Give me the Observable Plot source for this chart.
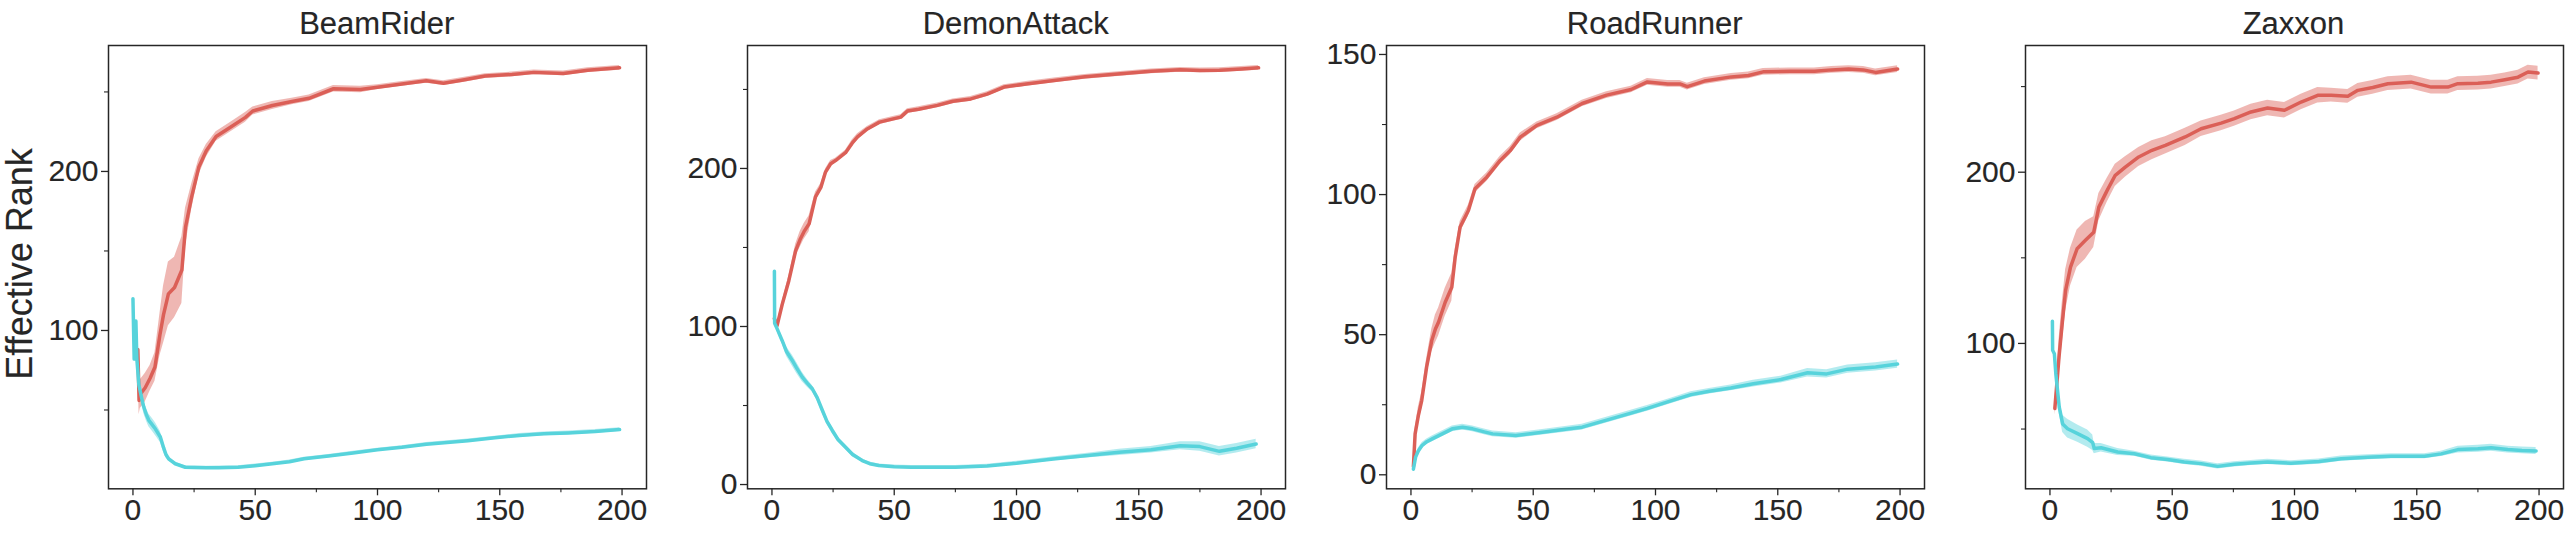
<!DOCTYPE html>
<html>
<head>
<meta charset="utf-8">
<script src="https://cdn.jsdelivr.net/npm/d3@7"></script>
<script src="https://cdn.jsdelivr.net/npm/@observablehq/plot@0.6"></script>
<style>
  html, body { margin: 0; padding: 0; background: #fff; }
  #root { position: relative; width: 2571px; height: 533px; background: #fff; overflow: hidden;
          font-family: 'Liberation Sans', Arial, sans-serif; color: #262626; }
  .panel { position: absolute; top: 0; }
  .panel svg text { stroke: #262626; stroke-width: 0.15px; }
  .title { position: absolute; top: 8.3px; font-size: 31px; line-height: 31px; text-align: center; white-space: nowrap;
           -webkit-text-stroke: 0.15px #262626; }
  .ylabel { position: absolute; left: 19.7px; top: 264.3px; font-size: 36px; line-height: 36px; white-space: nowrap;
            transform: translate(-50%, -50%) rotate(-90deg); -webkit-text-stroke: 0.15px #262626; }
</style>
</head>
<body>
<div id="root"></div>
<script>
// ---------------- data ----------------
const games = ["BeamRider", "DemonAttack", "RoadRunner", "Zaxxon"];
const yLabel = "Effective Rank";
const xMajorTicks = [0, 50, 100, 150, 200];
const xMinorTicks = [25, 75, 125, 175];

// BeamRider
const beamRiderRedX    = [2, 2.5, 3, 5, 7, 9, 11, 12.5, 14.5, 17, 20, 21.5, 24, 27, 30, 34, 40, 46, 49, 57, 65, 72, 82, 93, 100, 110, 120, 127, 135, 144, 155, 164, 176, 186, 199];
const beamRiderRedMean = [88, 56, 60, 64, 70, 77, 97, 110, 123, 127, 138, 165, 184, 203, 213, 222, 228, 234, 238, 241.5, 244, 246, 252, 251.5, 253, 255, 257, 255.5, 257.5, 260, 261, 262.3, 261.6, 263.7, 265.2];
const beamRiderRedBand = [3, 9, 9, 9, 8, 9, 13, 18, 20, 19, 21, 12, 8, 5, 4, 3, 3, 3, 2.5, 2.5, 2, 2, 2, 2, 1.5, 1.5, 1.5, 1.5, 1.5, 1.5, 1.5, 1.5, 1.5, 1.5, 1.5];
const beamRiderCyanX    = [0, 0.5, 1.2, 1.6, 2.4, 3.5, 4.4, 5.5, 6.5, 8, 9.2, 11.2, 12.6, 13.5, 14.6, 17.3, 21.4, 25, 30, 35, 43, 50, 57, 64, 70, 80, 90, 100, 110, 120, 137, 148, 158, 168, 178, 189, 199];
const beamRiderCyanMean = [120, 82, 106, 82, 66, 58, 52, 47, 43.5, 40.5, 38, 33, 26, 22, 19.3, 16.2, 14, 13.8, 13.6, 13.7, 14, 15, 16.2, 17.5, 19.3, 21, 23, 25, 26.5, 28.5, 30.7, 32.5, 34, 35, 35.6, 36.5, 37.7];
const beamRiderCyanBand = [1, 1, 1, 1.5, 2, 3, 4, 4, 4, 4, 4, 3.5, 3, 2, 1.5, 1, 1, 1, 1, 1, 1, 1, 1, 1, 1, 1, 1, 1, 1, 1, 1, 1, 1.2, 1.2, 1.2, 1.2, 1.2];

// DemonAttack
const demonRedX    = [1, 2.1, 4.2, 6.9, 9.7, 11.5, 13.1, 15.2, 17.8, 20, 21.9, 24, 26, 30.1, 32.8, 35, 39, 44, 50, 52.7, 55.4, 60, 67.7, 74, 81.3, 88, 94.9, 104, 115.4, 128, 142.6, 155, 167, 175, 183, 192, 199];
const demonRedMean = [105, 100.6, 114, 129, 148, 155, 160, 165, 182, 188, 197.7, 203, 205, 210, 216, 220, 225, 229.3, 231.5, 232.5, 236.3, 237.5, 239.9, 242.5, 244, 247, 251.5, 253.5, 255.7, 258, 259.9, 261.5, 262.4, 262, 262.2, 263, 263.7];
const demonRedBand = [1.5, 2, 2, 3, 4, 5, 5, 5, 3, 2.5, 2, 2, 1.5, 1.5, 2, 2, 1.5, 1.5, 1.5, 1.5, 1.5, 1.5, 1.5, 1.5, 1.5, 1.5, 1.5, 1.5, 1.5, 1.5, 1.5, 1.5, 1.5, 1.5, 1.5, 1.5, 1.5];
const demonCyanX    = [1, 1.1, 2, 4.2, 6, 8.3, 10, 12.4, 14.5, 16.5, 18.5, 20.6, 22.5, 24.7, 27, 30.1, 33, 36.9, 40, 43.7, 50, 57, 65, 75, 88, 100, 115, 130, 142, 155, 167, 175, 183, 190, 198];
const demonCyanMean = [135, 102, 99, 91, 84, 78.5, 74, 68, 64, 60.6, 55, 47, 40, 34.2, 28.5, 23.6, 19, 15.2, 13.2, 12, 11.3, 11, 11, 11, 11.8, 13.5, 16.2, 18.5, 20.4, 22, 24.5, 24, 21, 23, 25.6];
const demonCyanBand = [1, 1, 1.5, 2, 3, 3.5, 3.5, 3, 2.5, 2, 2, 2, 2, 2, 1.5, 1.5, 1.5, 1, 1, 1, 1, 1, 1, 1, 1, 1.2, 1.2, 1.5, 2, 2, 2.5, 3, 3, 3, 3];

// RoadRunner
const roadRedX    = [1, 1.7, 3, 4.4, 6.4, 8.5, 10, 11.3, 14, 16.7, 18.1, 20.1, 23.5, 26.2, 31, 36.5, 40.6, 44.7, 51.5, 59.7, 70, 80, 90, 96.7, 105, 110, 113, 120, 131, 138, 144, 155, 165, 172, 179, 185, 190, 199];
const roadRedMean = [3, 14.6, 21, 26.5, 38.4, 47.9, 52, 54.5, 61.6, 66.9, 77.7, 88.4, 94.3, 102.1, 106.2, 112.2, 115.7, 120.5, 124.7, 127.6, 132.5, 135.5, 137.5, 140.2, 139.5, 139.5, 138.5, 140.5, 142, 142.5, 143.8, 144, 144, 144.5, 144.8, 144.5, 143.6, 144.8];
const roadRedBand = [1, 2, 3, 3, 3, 4, 5, 5, 5, 5, 3, 2, 2, 1.5, 1.5, 1.5, 1.5, 1.5, 1.2, 1.2, 1.2, 1.2, 1.2, 1.2, 1.2, 1.2, 1.2, 1.2, 1.2, 1.2, 1.2, 1.2, 1.2, 1.2, 1.2, 1.2, 1.2, 1.2];
const roadCyanX    = [1, 1.9, 3, 4.6, 6.5, 8.7, 12.8, 16.9, 21.1, 25.2, 30, 33.4, 42.9, 53.8, 64.7, 70, 80, 90, 96.7, 105, 114.5, 122, 130.8, 140, 151.3, 162.2, 170, 178.6, 190, 199];
const roadCyanMean = [2, 6.3, 8.5, 10.5, 11.8, 12.8, 14.6, 16.4, 17, 16.4, 15.3, 14.6, 14, 15.2, 16.4, 17, 19.5, 22, 23.7, 26, 28.6, 29.8, 31, 32.5, 34, 36.4, 36, 37.7, 38.5, 39.5];
const roadCyanBand = [1, 1, 1, 1, 1, 1, 1, 1, 1, 1, 1, 1, 1, 1, 1, 1, 1, 1, 1, 1, 1, 1, 1, 1.2, 1.2, 1.5, 1.5, 1.5, 1.5, 1.5];

// Zaxxon
const zaxxonRedX    = [2, 3.7, 5, 6.4, 8.4, 11.1, 14.5, 17.9, 20, 23.4, 26.7, 30.8, 36.3, 41.7, 47.2, 55.3, 61.8, 70, 75.4, 82.2, 89, 95.9, 102.7, 109.5, 115, 121.8, 125.9, 132, 138.2, 147.7, 155.9, 162.7, 166.8, 175, 180.4, 186, 191.4, 195.5, 199.6];
const zaxxonRedMean = [62, 92, 111.5, 131, 144.6, 155.3, 160.2, 165, 179.6, 189.4, 198.2, 203, 208.9, 212.8, 215.7, 220.6, 225.4, 228.7, 231.3, 235.2, 237.5, 236.2, 241, 244.9, 245, 244.3, 247.8, 249.5, 251.7, 252.6, 249.7, 249.7, 251.7, 252, 252.6, 254, 255.5, 258.5, 257.9];
const zaxxonRedBand = [4, 10, 12, 12, 11, 11, 11, 9, 8, 7, 6.5, 6, 5.5, 5.5, 5, 5, 4.5, 4.5, 4.5, 4.5, 4.5, 4.5, 4.5, 4.5, 4, 4, 4, 4, 4, 4, 4, 4, 4, 4, 4, 4, 4, 4, 4];
const zaxxonCyanX    = [1, 1.1, 1.8, 2.4, 3.8, 5.2, 7.2, 11.3, 15.4, 17.5, 18.1, 20.9, 27.7, 34.5, 41.3, 48.1, 54.9, 61.8, 68.6, 75.4, 82.2, 89, 98.6, 110, 119.1, 130, 139.5, 153.2, 160, 166.8, 175, 180.4, 187.2, 193, 198.8];
const zaxxonCyanMean = [113, 96, 94, 82.3, 62.8, 53, 50.2, 47.3, 44.4, 42, 38.6, 39.1, 36.6, 35.6, 33.3, 32.2, 30.8, 29.8, 28.2, 29.4, 30.2, 30.8, 30, 31, 32.7, 33.5, 34.1, 34.1, 35.5, 38, 38.5, 39.1, 38, 37.5, 37.2];
const zaxxonCyanBand = [1, 1, 1.5, 2, 4, 5, 5.5, 5, 5, 4.5, 3, 2.5, 2, 1.5, 1.5, 1.5, 1.5, 1.5, 1.5, 1.5, 1.5, 1.5, 1.5, 1.5, 1.5, 1.5, 1.5, 1.5, 1.5, 2, 2, 2, 2, 2, 2];

// axis domains and ticks per panel
const yDomains = [[0.44, 279.2], [-2.7, 277.8], [-5.0, 153.2], [15.1, 274]];
const yMajorTicks = [[100, 200], [0, 100, 200], [0, 50, 100, 150], [100, 200]];
const yMinorTicks = [[50, 150, 250], [50, 150, 250], [25, 75, 125], [50, 150, 250]];
const seriesRed  = [[beamRiderRedX, beamRiderRedMean, beamRiderRedBand], [demonRedX, demonRedMean, demonRedBand], [roadRedX, roadRedMean, roadRedBand], [zaxxonRedX, zaxxonRedMean, zaxxonRedBand]];
const seriesCyan = [[beamRiderCyanX, beamRiderCyanMean, beamRiderCyanBand], [demonCyanX, demonCyanMean, demonCyanBand], [roadCyanX, roadCyanMean, roadCyanBand], [zaxxonCyanX, zaxxonCyanMean, zaxxonCyanBand]];

const RED = "#db5f57", CYAN = "#57d3db", INK = "#262626";

// ---------------- layout ----------------
const frameLefts = [107.7, 746.7, 1385.7, 2024.5];
const W = 538, ML = 90, MR = 8, H = 533, MT = 45, MB = 44.7;

function toRows([xs, ms, bs]) {
  return xs.map((x, i) => ({x, y: ms[i], lo: ms[i] - bs[i], hi: ms[i] + bs[i]}));
}

const root = document.getElementById("root");

games.forEach((game, i) => {
  const red = toRows(seriesRed[i]);
  const cyan = toRows(seriesCyan[i]);
  const chart = Plot.plot({
    width: ML + W + MR,
    height: H,
    marginLeft: ML, marginRight: MR, marginTop: MT, marginBottom: MB,
    style: {fontFamily: "'Liberation Sans', Arial, sans-serif", fontSize: "30px", color: INK, background: "transparent", overflow: "visible"},
    x: {domain: [-10, 210]},
    y: {domain: yDomains[i]},
    marks: [
      Plot.areaY(red,  {x: "x", y1: "lo", y2: "hi", fill: RED,  fillOpacity: 0.45}),
      Plot.areaY(cyan, {x: "x", y1: "lo", y2: "hi", fill: CYAN, fillOpacity: 0.45}),
      Plot.lineY(red,  {x: "x", y: "y", stroke: RED,  strokeWidth: 3.5, strokeLinejoin: "round"}),
      Plot.lineY(cyan, {x: "x", y: "y", stroke: CYAN, strokeWidth: 3.5, strokeLinejoin: "round"}),
      Plot.axisX({ticks: xMajorTicks, tickSize: 7, tickPadding: 3, fontSize: 30, strokeWidth: 1.3, label: null, tickFormat: d => String(d)}),
      Plot.axisX({ticks: xMinorTicks, tickSize: 4, strokeWidth: 1.1, label: null, tickFormat: () => ""}),
      Plot.axisY({ticks: yMajorTicks[i], tickSize: 7, tickPadding: 3, fontSize: 30, strokeWidth: 1.3, label: null, tickFormat: d => String(d)}),
      Plot.axisY({ticks: yMinorTicks[i], tickSize: 4, strokeWidth: 1.1, label: null, tickFormat: () => ""}),
      Plot.frame({stroke: INK, strokeWidth: 1.5})
    ]
  });
  const holder = document.createElement("div");
  holder.className = "panel";
  holder.style.left = (frameLefts[i] - ML) + "px";
  holder.appendChild(chart);
  root.appendChild(holder);

  const t = document.createElement("div");
  t.className = "title";
  t.style.left = frameLefts[i] + "px";
  t.style.width = W + "px";
  t.textContent = game;
  root.appendChild(t);
});

const yl = document.createElement("div");
yl.className = "ylabel";
yl.textContent = yLabel;
root.appendChild(yl);
</script>
</body>
</html>
